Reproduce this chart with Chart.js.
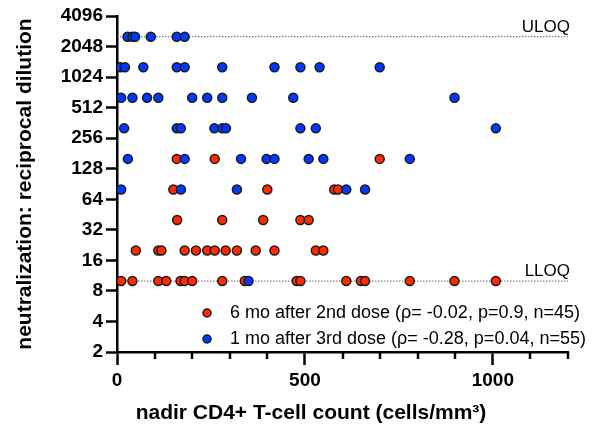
<!DOCTYPE html>
<html>
<head>
<meta charset="utf-8">
<script src="https://cdn.jsdelivr.net/npm/chart.js@4"></script>
<style>
  html, body { margin: 0; padding: 0; background: #fff; }
  #wrap { width: 599px; height: 427px; }
</style>
</head>
<body>
<div id="wrap"><canvas id="c" width="599" height="427"></canvas></div>
<script>
// ---- data ----
const yTickValues = [2, 4, 8, 16, 32, 64, 128, 256, 512, 1024, 2048, 4096];
const xTickValues = [0, 500, 1000];
const xMinorTicks = [100, 200, 300, 400, 600, 700, 800, 900, 1100, 1200];
const xMax = 1200;
const uloq = 2560;
const lloq = 10;

const redLabel = '6 mo after 2nd dose (ρ= -0.02, p=0.9, n=45)';
const redX = [159, 260, 699,
              150, 400, 578, 588,
              160, 280, 389, 488, 510,
              50, 110, 118, 180, 210, 240, 260, 289, 319, 369, 419, 529, 549,
              11, 41, 110, 131, 169, 180, 200, 280, 340, 478, 488, 610, 649, 660, 779, 898, 1008];
const redY = [160, 160, 160,
              80, 80, 80, 80,
              40, 40, 40, 40, 40,
              20, 20, 20, 20, 20, 20, 20, 20, 20, 20, 20, 20, 20,
              10, 10, 10, 10, 10, 10, 10, 10, 10, 10, 10, 10, 10, 10, 10, 10, 10];

const blueLabel = '1 mo after 3rd dose (ρ= -0.28, p=0.04, n=55)';
const blueX = [28, 41, 48, 90, 159, 180,
               9, 21, 70, 159, 180, 280, 419, 488, 539, 699,
               11, 41, 80, 110, 200, 240, 280, 359, 469, 898,
               19, 159, 170, 259, 280, 290, 488, 529, 1008,
               29, 180, 330, 398, 419, 510, 549, 779,
               11, 170, 319, 610, 660,
               350];
const blueY = [2560, 2560, 2560, 2560, 2560, 2560,
               1280, 1280, 1280, 1280, 1280, 1280, 1280, 1280, 1280, 1280,
               640, 640, 640, 640, 640, 640, 640, 640, 640, 640,
               320, 320, 320, 320, 320, 320, 320, 320, 320,
               160, 160, 160, 160, 160, 160, 160, 160,
               80, 80, 80, 80, 80,
               10];

const xTitle = 'nadir CD4+ T-cell count (cells/mm³)';
const yTitle = 'neutralization: reciprocal dilution';

// ---- styles ----
const RED = '#FF2A00';
const BLUE = '#0038FF';
const FONT = "'Liberation Sans', Arial, Helvetica, sans-serif";

const toPts = (xs, ys) => xs.map((x, i) => ({x: x, y: ys[i]}));

const extras = {
  id: 'extras',
  afterDraw(chart) {
    const ctx = chart.ctx;
    const xs = chart.scales.x, ys = chart.scales.y;
    ctx.save();
    // minor x ticks
    ctx.strokeStyle = '#000';
    ctx.lineWidth = 2.5;
    xMinorTicks.forEach(v => {
      const px = Math.round(xs.getPixelForValue(v));
      ctx.beginPath();
      ctx.moveTo(px, xs.top);
      ctx.lineTo(px, xs.top + 7);
      ctx.stroke();
    });
    // ULOQ / LLOQ labels
    ctx.fillStyle = '#000';
    ctx.font = '17px ' + FONT;
    ctx.textAlign = 'right';
    ctx.textBaseline = 'alphabetic';
    ctx.fillText('ULOQ', 570, ys.getPixelForValue(uloq) - 5);
    ctx.fillText('LLOQ', 570, ys.getPixelForValue(lloq) - 5);
    // legend
    const items = [[RED, redLabel], [BLUE, blueLabel]];
    ctx.font = '18px ' + FONT;
    ctx.textAlign = 'left';
    ctx.textBaseline = 'middle';
    items.forEach((it, i) => {
      const cy = 313 + i * 26;
      ctx.beginPath();
      ctx.arc(207, cy, 4, 0, Math.PI * 2);
      ctx.fillStyle = it[0];
      ctx.fill();
      ctx.lineWidth = 1.5;
      ctx.strokeStyle = '#1a1a1a';
      ctx.stroke();
      ctx.fillStyle = '#000';
      ctx.fillText(it[1], 230, cy);
    });
    // x title
    ctx.font = 'bold 21px ' + FONT;
    ctx.textAlign = 'center';
    ctx.fillText(xTitle, 311, 413);
    ctx.restore();
  }
};

new Chart(document.getElementById('c'), {
  type: 'scatter',
  data: {
    datasets: [
      {
        label: blueLabel,
        data: toPts(blueX, blueY),
        backgroundColor: BLUE,
        borderColor: '#1a1a1a',
        borderWidth: 1.5,
        pointRadius: 4.5,
        order: 0
      },
      {
        label: redLabel,
        data: toPts(redX, redY),
        backgroundColor: RED,
        borderColor: '#1a1a1a',
        borderWidth: 1.5,
        pointRadius: 4.5,
        order: 1
      },
      {
        type: 'line',
        label: 'ULOQ',
        data: [{x: 0, y: uloq}, {x: xMax, y: uloq}],
        borderColor: '#666',
        borderWidth: 1,
        borderDash: [1.5, 1.5],
        pointRadius: 0,
        order: 2
      },
      {
        type: 'line',
        label: 'LLOQ',
        data: [{x: 0, y: lloq}, {x: xMax, y: lloq}],
        borderColor: '#666',
        borderWidth: 1,
        borderDash: [1.5, 1.5],
        pointRadius: 0,
        order: 2
      }
    ]
  },
  options: {
    responsive: false,
    animation: false,
    devicePixelRatio: 1,
    layout: { padding: { top: 16, right: 31, bottom: 0, left: 0 } },
    plugins: { legend: { display: false }, tooltip: { enabled: false } },
    scales: {
      x: {
        type: 'linear',
        min: 0,
        max: xMax,
        afterBuildTicks: s => { s.ticks = xTickValues.map(v => ({value: v})); },
        afterFit: s => { s.height = 75; },
        border: { display: true, color: '#000', width: 2.5 },
        grid: { display: true, drawOnChartArea: false, drawTicks: true, tickLength: 13, tickColor: '#000', tickWidth: 2.5 },
        ticks: {
          color: '#000',
          padding: 4,
          maxRotation: 0,
          font: { family: FONT, size: 19, weight: 'bold' },
          callback: v => String(v)
        },
        title: { display: false }
      },
      y: {
        type: 'logarithmic',
        min: 2,
        max: 4096,
        afterBuildTicks: s => { s.ticks = yTickValues.map(v => ({value: v})); },
        afterFit: s => { s.width = 117; },
        border: { display: true, color: '#000', width: 2.5 },
        grid: { display: true, drawOnChartArea: false, drawTicks: true, tickLength: 11, tickColor: '#000', tickWidth: 2.5 },
        ticks: {
          color: '#000',
          padding: 3,
          font: { family: FONT, size: 19, weight: 'bold' },
          callback: v => String(v)
        },
        title: {
          display: true,
          text: yTitle,
          color: '#000',
          font: { family: FONT, size: 21, weight: 'bold' },
          padding: { top: 13, bottom: 0 }
        }
      }
    }
  },
  plugins: [extras]
});
</script>
</body>
</html>
